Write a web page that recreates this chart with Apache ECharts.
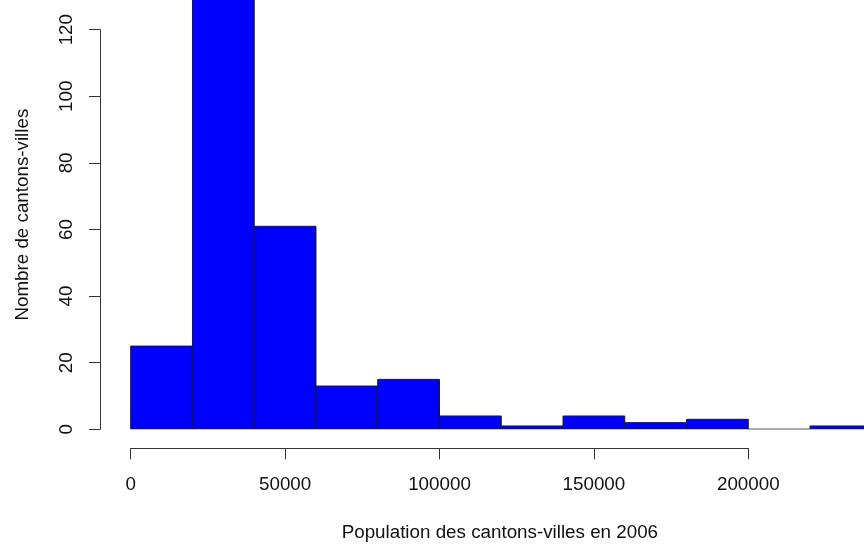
<!DOCTYPE html>
<html>
<head>
<meta charset="utf-8">
<script src="https://cdn.jsdelivr.net/npm/echarts@6/dist/echarts.min.js"></script>
<style>
html,body{margin:0;padding:0;background:#fff;}
#chart{width:864px;height:549px;}
</style>
</head>
<body>
<div id="chart"></div>
<script>
// Histogram bins (lower bounds) and counts
const binStarts = [0, 20000, 40000, 60000, 80000, 100000, 120000, 140000, 160000, 180000, 200000, 220000];
const binWidth = 20000;
const counts = [25, 130, 61, 13, 15, 4, 1, 4, 2, 3, 0, 1];
const xTicks = [0, 50000, 100000, 150000, 200000];
const yTicks = [0, 20, 40, 60, 80, 100, 120];
const xTitle = 'Population des cantons-villes en 2006';
const yTitle = 'Nombre de cantons-villes';

const FONT = 'Liberation Sans, Arial, sans-serif';
const data = binStarts.map((s, i) => [s, s + binWidth, counts[i]]);

const hidden = {
  axisLine: { show: false }, axisTick: { show: false }, axisLabel: { show: false }, splitLine: { show: false }
};
const lineStyle = { color: '#333', width: 1 };

const chart = echarts.init(document.getElementById('chart'));
chart.setOption({
  animation: false,
  backgroundColor: '#ffffff',
  textStyle: { fontFamily: FONT },
  grid: [
    { left: 130.7, right: 0, top: 0, height: 429.3 },          // data (visible part up to image edge)
    { left: 130.7, width: 617.6, top: 29.7, height: 418.6 },   // x axis (offset below)
    { left: 100, width: 617.6, top: 29.7, height: 399.6 }      // y axis (offset left)
  ],
  xAxis: [
    Object.assign({
      gridIndex: 0, type: 'value', min: 0, max: 237470,
      name: xTitle, nameLocation: 'middle', nameGap: 94,
      nameTextStyle: { fontSize: 18.8, color: '#111', fontFamily: FONT, padding: [0, 0, 0, 5] }
    }, hidden),
    {
      gridIndex: 1, type: 'value', min: xTicks[0], max: xTicks[xTicks.length - 1], interval: 50000,
      axisLine: { show: true, lineStyle: lineStyle },
      axisTick: { show: true, length: 11, lineStyle: lineStyle },
      axisLabel: { show: true, margin: 27, fontSize: 18.8, color: '#111', fontFamily: FONT,
                   formatter: function (v) { return String(v); } },
      splitLine: { show: false }
    },
    Object.assign({ gridIndex: 2, type: 'value', min: 0, max: 1 }, hidden)
  ],
  yAxis: [
    Object.assign({
      gridIndex: 0, type: 'value', min: 0, max: 129,
      name: yTitle, nameLocation: 'middle', nameGap: 98,
      nameTextStyle: { fontSize: 18.8, color: '#111', fontFamily: FONT }
    }, hidden),
    Object.assign({ gridIndex: 1, type: 'value', min: 0, max: 1 }, hidden),
    {
      gridIndex: 2, type: 'value', min: yTicks[0], max: yTicks[yTicks.length - 1], interval: 20,
      axisLine: { show: true, lineStyle: lineStyle },
      axisTick: { show: true, length: 11, lineStyle: lineStyle },
      axisLabel: { show: true, rotate: 90, margin: 24, fontSize: 18.8, color: '#111', fontFamily: FONT },
      splitLine: { show: false }
    }
  ],
  series: [{
    type: 'custom',
    xAxisIndex: 0, yAxisIndex: 0,
    clip: true,
    data: data,
    encode: { x: [0, 1], y: 2 },
    renderItem: function (params, api) {
      const p0 = api.coord([api.value(0), api.value(2)]);
      const p1 = api.coord([api.value(1), 0]);
      return {
        type: 'rect',
        shape: { x: p0[0], y: p0[1], width: p1[0] - p0[0], height: p1[1] - p0[1] },
        style: { fill: '#0000ff', stroke: '#1a1a1a', lineWidth: 1 }
      };
    }
  }]
});
</script>
</body>
</html>
